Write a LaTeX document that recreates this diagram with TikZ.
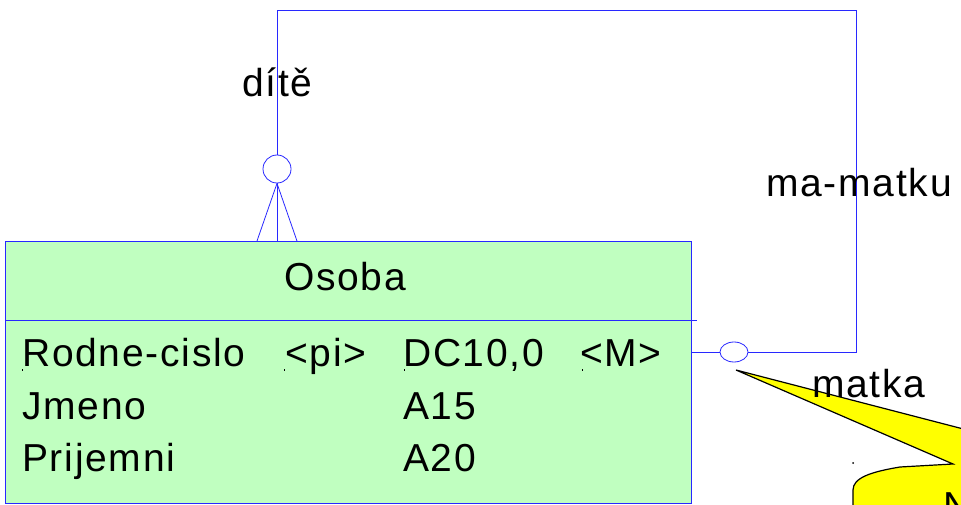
\documentclass[tikz,border=0pt]{standalone}
\usepackage{fontspec}
\newfontfamily\lblfont{Liberation Sans}[LetterSpace=4.5]
\usetikzlibrary{shapes.geometric}
\definecolor{boxgreen}{RGB}{192,255,192}
\definecolor{linkblue}{RGB}{40,40,255}
\definecolor{callyellow}{RGB}{255,255,0}
\tikzset{
  txt/.style={anchor=base west, inner sep=0pt, font=\lblfont\fontsize{39}{42}\selectfont},
  link/.style={draw=linkblue, line width=0.8pt},
  entity/.style={draw=linkblue, fill=boxgreen, line width=0.9pt, inner sep=0pt, anchor=north west},
  tick/.style={draw=black, line width=0.6pt},
}
\begin{document}
\begin{tikzpicture}[x=1pt,y=-1pt]
\useasboundingbox (0,0) rectangle (961,505);
% entity box
\node[entity, minimum width=686pt, minimum height=262pt] (osoba) at (5,241) {};
\coordinate (sepL) at (5,320);
\coordinate (sepR) at (697,320);
\draw[link] (sepL) -- (sepR);
% texts
\node[txt] (title) at (284,290) {Osoba};
\node[txt] (r1a) at (22,366) {Rodne-cislo};
\node[txt] (r1b) at (285,366) {<pi>};
\node[txt] (r1c) at (403,366) {DC10,0};
\node[txt] (r1d) at (580,366) {<M>};
\node[txt] (r2a) at (22,419) {Jmeno};
\node[txt] (r2c) at (403,419) {A15};
\node[txt] (r3a) at (22,471) {Prijemni};
\node[txt] (r3c) at (403,471) {A20};
% tiny ticks under the first row
\coordinate (t1) at (22,369); \coordinate (t1b) at (22,371);
\coordinate (t2) at (284,369); \coordinate (t2b) at (284,371);
\coordinate (t3) at (404,369); \coordinate (t3b) at (404,371);
\coordinate (t4) at (582,369); \coordinate (t4b) at (582,371);
\draw[tick] (t1) -- (t1b); \draw[tick] (t2) -- (t2b);
\draw[tick] (t3) -- (t3b); \draw[tick] (t4) -- (t4b);
% relationship
\node[circle, draw=linkblue, line width=0.8pt, minimum size=28pt, inner sep=0pt] (c1) at (277,169) {};
\node[ellipse, draw=linkblue, line width=0.8pt, minimum width=28pt, minimum height=20pt, inner sep=0pt] (c2) at (734,352) {};
\coordinate (tl) at (277,10);
\coordinate (tr) at (856,10);
\coordinate (br) at (856,352);
\coordinate (bx) at (691,352);
\coordinate (f1) at (257,241);
\coordinate (f2) at (277,241);
\coordinate (f3) at (297,241);
\draw[link] (c1.north) -- (tl) -- (tr) -- (br) -- (c2.east);
\draw[link] (bx) -- (c2.west);
\draw[link] (c1.south) -- (f1);
\draw[link] (c1.south) -- (f2);
\draw[link] (c1.south) -- (f3);
\node[txt] (dite) at (242,97) {dítě};
\node[txt] (mamatku) at (766,197) {ma-matku};
% callout
\coordinate (tip) at (736,370);
\fill[callyellow, draw=black, line width=1.2pt]
  (tip) -- (975,432) -- (975,515) -- (853,515) -- (853,490)
  .. controls (853,478) and (870,472) .. (900,467) -- (953,464) -- cycle;
\node[txt] (matka) at (812,397) {matka};
\node[txt] (nlbl) at (943,519) {N};
\node[circle, fill=black, inner sep=0pt, minimum size=2pt] (dot) at (853,463) {};
\end{tikzpicture}
\end{document}
